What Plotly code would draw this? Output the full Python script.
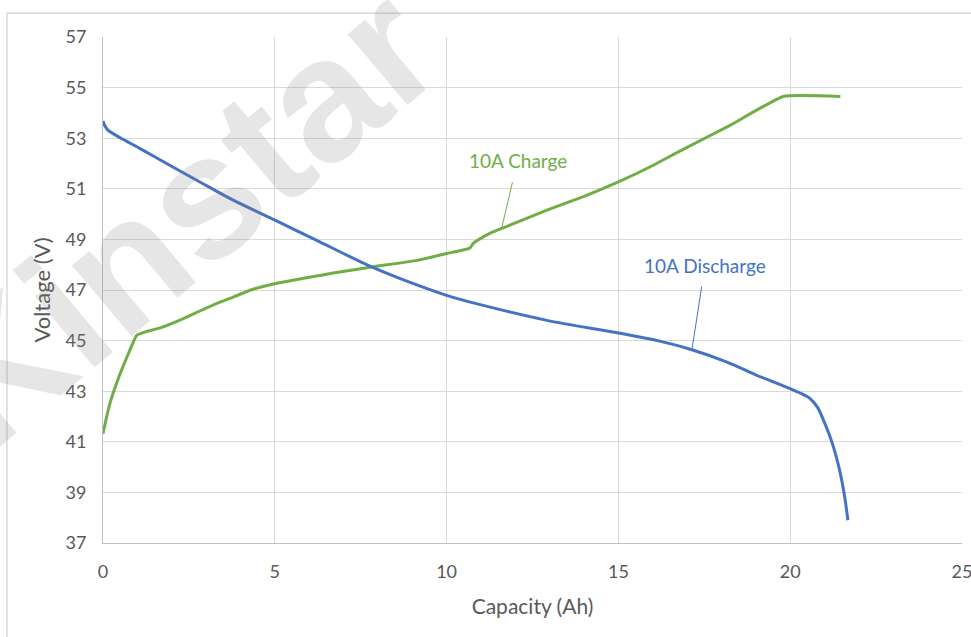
import plotly.graph_objects as go

# ---- data ----
charge_x = [0, 0.1, 0.2, 0.35, 0.5, 0.74, 0.98, 1.27, 1.66, 2.34, 2.82, 3.3, 3.79, 4.28, 4.6, 5.06,
            6.0, 6.7, 7.82, 9.13, 10.0, 10.68, 10.78, 10.98, 11.2, 11.6, 12.9, 14.0, 15.0,
            16.0, 16.8, 18.25, 19.8, 21.46]
charge_y = [41.32, 41.95, 42.51, 43.15, 43.7, 44.49, 45.21, 45.36, 45.5, 45.87, 46.17, 46.46, 46.72, 46.99, 47.12, 47.27,
            47.5, 47.67, 47.91, 48.17, 48.44, 48.66, 48.85, 49.03, 49.2, 49.43, 50.15, 50.7, 51.27,
            51.92, 52.5, 53.51, 54.65, 54.65]

discharge_x = [0, 0.05, 0.15, 0.5, 1.08, 1.85, 2.82, 3.79, 5.02, 6.22, 7.82, 8.65, 10.0, 10.98,
               12.92, 15.0, 16.2, 17.14, 18.16, 19.03, 20.0, 20.3, 20.58, 20.8, 20.97, 21.12, 21.26,
               21.4, 21.5, 21.6, 21.68]
discharge_y = [53.68, 53.5, 53.31, 53.02, 52.59, 52.0, 51.27, 50.55, 49.75, 48.96, 47.91, 47.45, 46.79, 46.42,
               45.8, 45.3, 44.98, 44.64, 44.15, 43.63, 43.1, 42.92, 42.71, 42.35, 41.85, 41.35, 40.79,
               40.1, 39.48, 38.7, 37.9]

x_ticks = [0, 5, 10, 15, 20, 25]
y_ticks = [37, 39, 41, 43, 45, 47, 49, 51, 53, 55, 57]

series_names = ["10A Charge", "10A Discharge"]
GREEN = "#70AD47"
BLUE = "#4472C4"
FONT = "Lato"

fig = go.Figure()
fig.add_trace(go.Scatter(x=charge_x, y=charge_y, mode="lines", name=series_names[0],
                         line=dict(color=GREEN, width=3, shape="spline", smoothing=0.4)))
fig.add_trace(go.Scatter(x=discharge_x, y=discharge_y, mode="lines", name=series_names[1],
                         line=dict(color=BLUE, width=3, shape="spline", smoothing=0.8)))

# callout labels pointing to points on the curves
ci = charge_x.index(11.6)
di = discharge_x.index(17.14)
fig.add_annotation(x=charge_x[ci], y=charge_y[ci], text=series_names[0], showarrow=True,
                   arrowhead=0, arrowwidth=1, arrowcolor=GREEN, ax=16, ay=-68, startstandoff=9,
                   font=dict(family=FONT, size=19, color=GREEN))
fig.add_annotation(x=discharge_x[di], y=discharge_y[di], text=series_names[1], showarrow=True,
                   arrowhead=0, arrowwidth=1, arrowcolor=BLUE, ax=13, ay=-84, startstandoff=8,
                   font=dict(family=FONT, size=19, color=BLUE))

# watermark
fig.add_annotation(xref="paper", yref="paper", x=0.09, y=0.645, xanchor="center", yanchor="middle",
                   text="<b>Kinstar</b>", showarrow=False, textangle=-40,
                   font=dict(family="Liberation Sans", size=175, color="rgba(128,128,128,0.2)"))

# outer chart border
border = dict(type="line", xref="paper", yref="paper", line=dict(color="#d9d9d9", width=1.5))
fig.add_shape(x0=-0.1118, x1=-0.1118, y0=-0.19, y1=1.0468, **border)
fig.add_shape(x0=-0.1118, x1=1.02, y0=1.0468, y1=1.0468, **border)

axis_common = dict(showgrid=True, gridcolor="#d9d9d9", gridwidth=1, zeroline=False,
                   showline=True, linecolor="#bfbfbf", linewidth=1, ticks="", automargin=False,
                   ticklabeloverflow="allow",
                   tickfont=dict(family=FONT, size=18, color="#595959"))

fig.update_xaxes(range=[0, 25], tickvals=x_ticks, ticklabelstandoff=12,
                 title=dict(text="Capacity (Ah)", standoff=18,
                            font=dict(family=FONT, size=21, color="#595959")), **axis_common)
fig.update_yaxes(range=[37, 57], tickvals=y_ticks, ticklabelstandoff=12,
                 title=dict(text="Voltage (V)", standoff=8,
                            font=dict(family=FONT, size=22, color="#595959")), **axis_common)

fig.update_layout(width=971, height=637, margin=dict(l=103, r=9, t=37, b=94),
                  plot_bgcolor="white", paper_bgcolor="white", showlegend=False)

fig.write_html("out.html", config={"displayModeBar": False},
               post_script="document.body.style.margin='0px';")
